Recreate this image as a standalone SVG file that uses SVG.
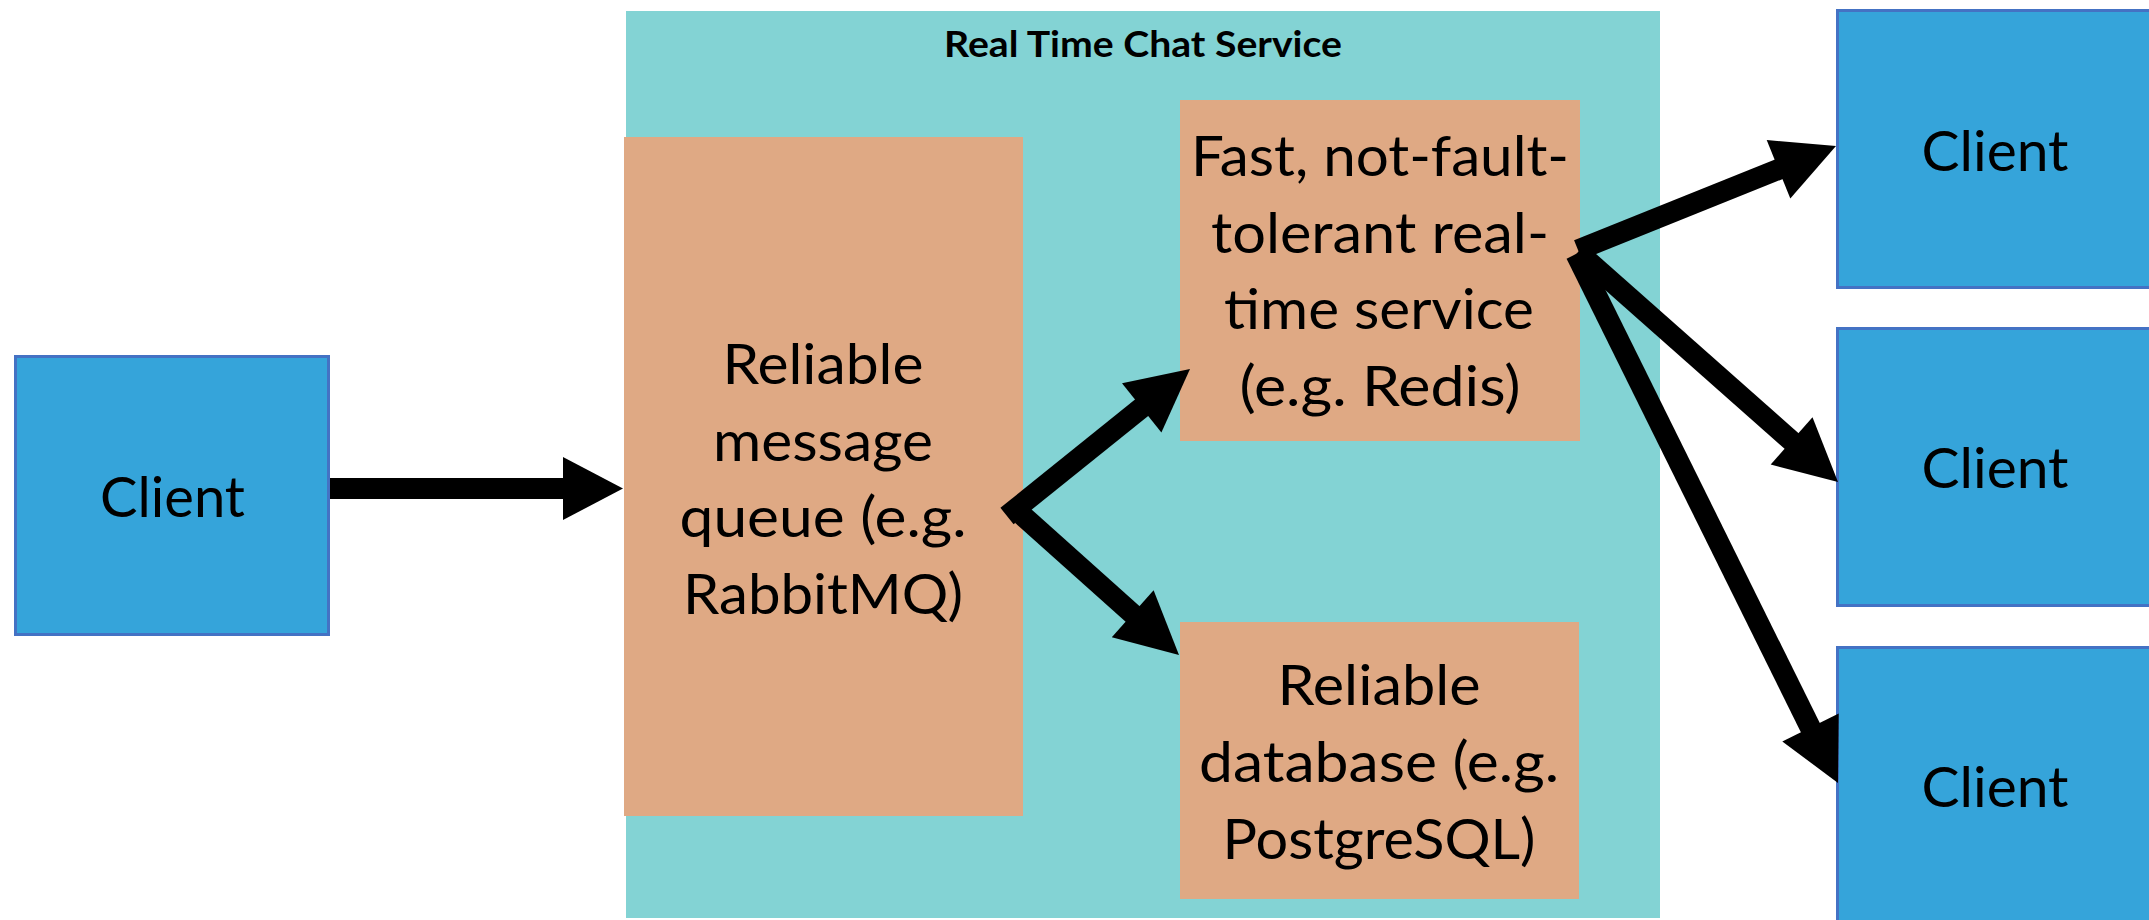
<svg xmlns="http://www.w3.org/2000/svg" width="2149" height="920" viewBox="0 0 2149 920">
<style>
.client{fill:#35A4DA;stroke:#4472C4;stroke-width:3}
.svc{fill:#DFA984}
.container{fill:#83D3D4}
.t{font-family:Lato,"Liberation Sans","DejaVu Sans",sans-serif;font-size:56px;fill:#000;text-anchor:middle}
.title{font-family:Lato,"Liberation Sans","DejaVu Sans",sans-serif;font-size:36px;font-weight:bold;fill:#000;text-anchor:middle}
.shaft{stroke:#000;stroke-width:21;stroke-linecap:butt;fill:none}
.head{fill:#000}
</style>
<rect width="2149" height="920" fill="#FFFFFF"/>
<g id="container">
<rect class="container" x="626" y="11" width="1034" height="907"/>
<text class="title" x="1143" y="57" textLength="398" lengthAdjust="spacingAndGlyphs">Real Time Chat Service</text>
</g>
<g id="client-left">
<rect class="client" x="15.5" y="356.5" width="313" height="278"/>
<text class="t" x="172.5" y="517" textLength="145" lengthAdjust="spacingAndGlyphs">Client</text>
</g>
<g id="queue">
<rect class="svc" x="624" y="137" width="399" height="679"/>
<text class="t" x="823" y="384" textLength="201" lengthAdjust="spacingAndGlyphs">Reliable</text>
<text class="t" x="823" y="460.5" textLength="220" lengthAdjust="spacingAndGlyphs">message</text>
<text class="t" x="823" y="537" textLength="287" lengthAdjust="spacingAndGlyphs">queue (e.g.</text>
<text class="t" x="823" y="613.5" textLength="280" lengthAdjust="spacingAndGlyphs">RabbitMQ)</text>
</g>
<g id="realtime">
<rect class="svc" x="1180" y="100" width="400" height="341"/>
<text class="t" x="1380" y="176" textLength="378" lengthAdjust="spacingAndGlyphs">Fast, not-fault-</text>
<text class="t" x="1380" y="252.5" textLength="338" lengthAdjust="spacingAndGlyphs">tolerant real-</text>
<text class="t" x="1379" y="329" textLength="310" lengthAdjust="spacingAndGlyphs">time service</text>
<text class="t" x="1380" y="405.5" textLength="281" lengthAdjust="spacingAndGlyphs">(e.g. Redis)</text>
</g>
<g id="database">
<rect class="svc" x="1180" y="622" width="399" height="277"/>
<text class="t" x="1379" y="705" textLength="203" lengthAdjust="spacingAndGlyphs">Reliable</text>
<text class="t" x="1379" y="782" textLength="360" lengthAdjust="spacingAndGlyphs">database (e.g.</text>
<text class="t" x="1379" y="858.5" textLength="313" lengthAdjust="spacingAndGlyphs">PostgreSQL)</text>
</g>
<g id="client-1">
<rect class="client" x="1837.5" y="10.5" width="320" height="277"/>
<text class="t" x="1995" y="171" textLength="147" lengthAdjust="spacingAndGlyphs">Client</text>
</g>
<g id="client-2">
<rect class="client" x="1837.5" y="328.5" width="320" height="277"/>
<text class="t" x="1995" y="488" textLength="147" lengthAdjust="spacingAndGlyphs">Client</text>
</g>
<g id="client-3">
<rect class="client" x="1837.5" y="647.5" width="320" height="280"/>
<text class="t" x="1995" y="807" textLength="147" lengthAdjust="spacingAndGlyphs">Client</text>
</g>
<g id="connectors">
<line class="shaft" x1="330" y1="488.5" x2="566" y2="488.5"/>
<polygon class="head" points="623,488.5 563,457 563,520"/>
<line class="shaft" x1="1007" y1="516" x2="1145" y2="405"/>
<polygon class="head" points="1190,369 1161.4,432.4 1122,383.2"/>
<line class="shaft" x1="1022" y1="515" x2="1136" y2="617"/>
<polygon class="head" points="1179,655 1111.8,637.3 1153.6,590.3"/>
<line class="shaft" x1="1578" y1="250" x2="1782" y2="168"/>
<polygon class="head" points="1836,146 1790.3,198.4 1766.7,140"/>
<line class="shaft" x1="1578" y1="252" x2="1795" y2="444"/>
<polygon class="head" points="1838,482 1770.7,464.5 1812.5,417.3"/>
<line class="shaft" x1="1576" y1="254" x2="1812" y2="731"/>
<polygon class="head" points="1838,783 1782.3,741.4 1838.7,713.4"/>
</g>
</svg>
